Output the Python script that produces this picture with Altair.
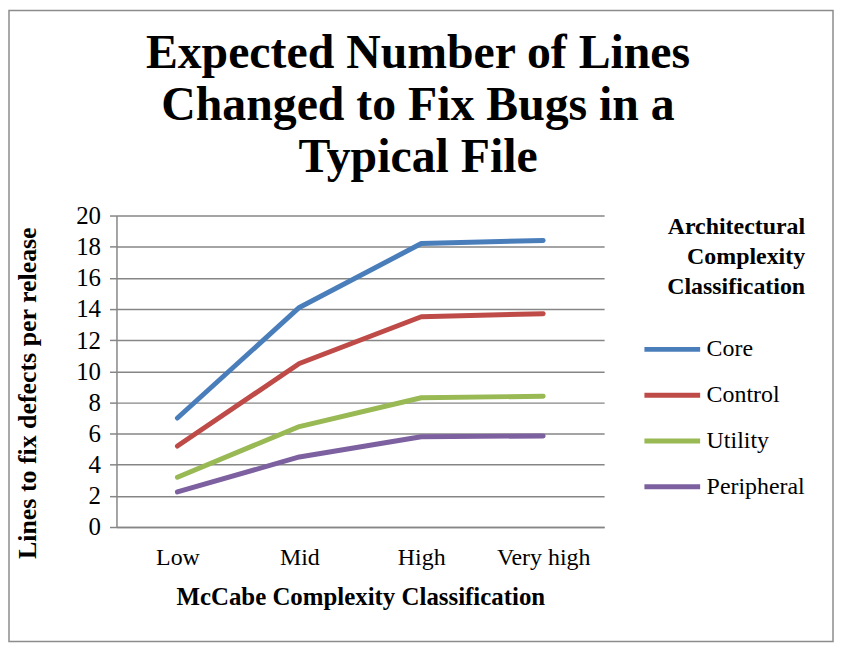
import altair as alt
import pandas as pd

categories = ["Low", "Mid", "High", "Very high"]
series_names = ["Core", "Control", "Utility", "Peripheral"]
core = [7.0, 14.1, 18.2, 18.4]
control = [5.2, 10.5, 13.5, 13.7]
utility = [3.2, 6.45, 8.3, 8.4]
peripheral = [2.25, 4.5, 5.8, 5.85]
colors = ["#4A7EBB", "#BE4B48", "#98B954", "#7D60A0"]

rows = []
for name, vals in zip(series_names, [core, control, utility, peripheral]):
    for c, v in zip(categories, vals):
        rows.append({"McCabe": c, "Arch": name, "value": v})
df = pd.DataFrame(rows)

FONT = "Liberation Serif"
GRID = "#868686"

lines = alt.Chart(df).mark_line(strokeWidth=5, strokeCap="round", strokeJoin="round").encode(
    x=alt.X("McCabe:N", sort=categories,
            scale=alt.Scale(type="point", padding=0.5),
            axis=alt.Axis(title="McCabe Complexity Classification", labelAngle=0,
                          labelFontSize=24, labelPadding=19, ticks=False,
                          domainColor=GRID, domainWidth=1.5,
                          titleFontSize=25, titleFontWeight="bold", titlePadding=15)),
    y=alt.Y("value:Q", scale=alt.Scale(domain=[0, 20], nice=False),
            axis=alt.Axis(title="Lines to fix defects per release",
                          values=list(range(0, 21, 2)), labelFontSize=25,
                          labelPadding=9, tickSize=7, tickColor=GRID, tickWidth=1.5,
                          domainColor=GRID, domainWidth=1.5,
                          gridColor=GRID, gridWidth=1.5,
                          titleFontSize=26, titleFontWeight="bold",
                          titleBaseline="middle", titleX=-89, titleY=178)),
    color=alt.Color("Arch:N", sort=series_names,
                    scale=alt.Scale(domain=series_names, range=colors),
                    legend=alt.Legend(
                        title=["Architectural", "Complexity", "Classification"],
                        orient="none", legendX=528, legendY=0,
                        titleFontSize=24, titleFontWeight="bold", titleLineHeight=30,
                        titleAlign="right", titleAnchor="end", titlePadding=20,
                        labelFontSize=24, labelOffset=4, rowPadding=3,
                        symbolType="stroke", symbolSize=3136, symbolStrokeWidth=5)),
)

border_df = pd.DataFrame({"k": [0]})
border = alt.Chart(border_df).mark_rect(fill=None, stroke="#8c8c8c", strokeWidth=1.5).encode(
    x=alt.value(-108), x2=alt.value(720), y=alt.value(-206), y2=alt.value(428)
)

chart = alt.layer(border, lines).properties(
    width=490, height=313,
    autosize=alt.AutoSizeParams(type="none"),
    padding={"left": 109, "top": 207, "right": 231, "bottom": 116},
    title=alt.TitleParams(
        text=["Expected Number of Lines", "Changed to Fix Bugs in a", "Typical File"],
        fontSize=48, fontWeight="bold", font=FONT, lineHeight=52,
        anchor="middle", frame="group", dx=58, offset=-173, color="black",
    ),
).configure(font=FONT).configure_axis(
    labelFont=FONT, titleFont=FONT, labelColor="black", titleColor="black", grid=True
).configure_axisX(grid=False).configure_legend(
    labelFont=FONT, titleFont=FONT, labelColor="black", titleColor="black"
).configure_view(stroke=None)

chart.save("out.html", embed_options={"renderer": "svg", "actions": False})
